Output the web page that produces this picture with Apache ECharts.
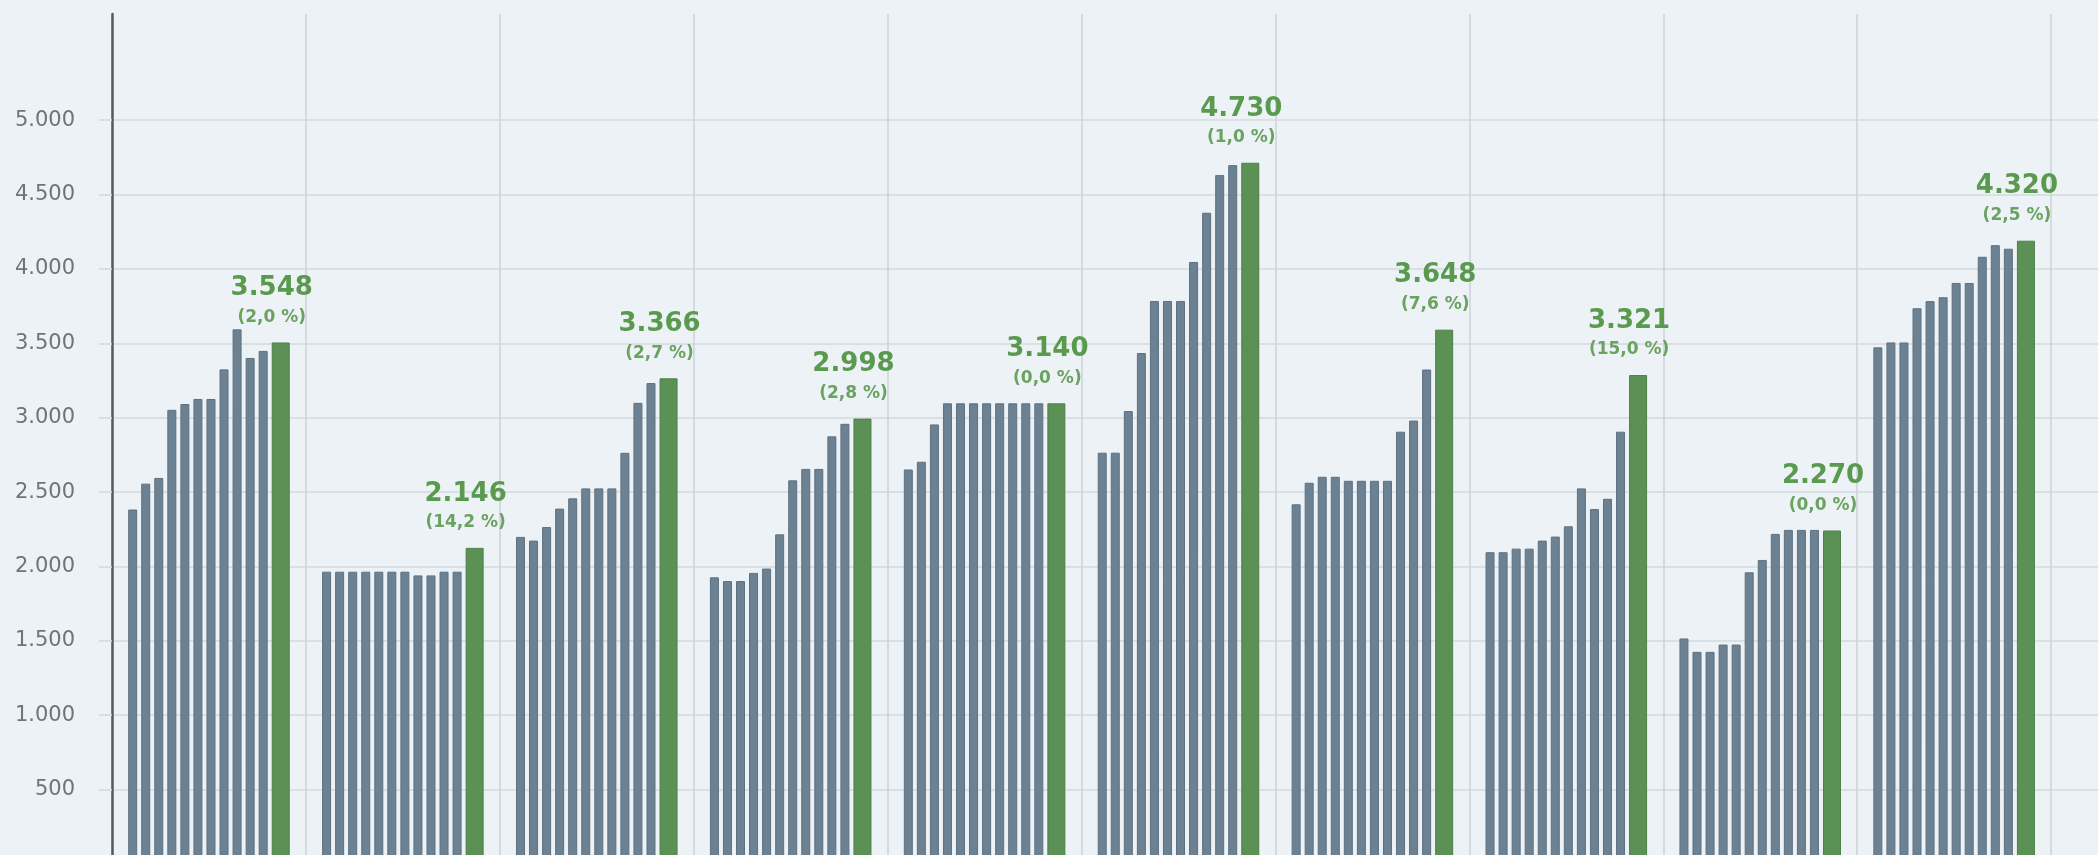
<!DOCTYPE html>
<html>
<head>
<meta charset="utf-8">
<title>Balken</title>
<script src="https://cdn.jsdelivr.net/npm/echarts@6/dist/echarts.min.js"></script>
<style>
    html, body {margin: 0; padding: 0; background: #edf2f7;}
    #chart {width: 2098px; height: 855px;}
</style>
</head>
<body>
<div id="chart"></div>
<script>
// 10 Gruppen, je 11 graue Vorjahres-Balken + 1 gruener aktueller Balken
const groups = ['1', '2', '3', '4', '5', '6', '7', '8', '9', '10'];

const history = [
    [2383, 2557, 2595, 3053, 3092, 3126, 3126, 3325, 3594, 3402, 3449],
    [1965, 1965, 1965, 1965, 1965, 1965, 1965, 1940, 1940, 1965, 1965],
    [2199, 2174, 2265, 2389, 2458, 2525, 2525, 2525, 2764, 3100, 3233],
    [1927, 1902, 1902, 1957, 1986, 2216, 2579, 2656, 2656, 2875, 2959],
    [2652, 2704, 2955, 3097, 3097, 3097, 3097, 3097, 3097, 3097, 3097],
    [2765, 2765, 3045, 3435, 3785, 3785, 3785, 4047, 4378, 4631, 4698],
    [2418, 2563, 2603, 2603, 2576, 2576, 2576, 2576, 2906, 2981, 3324],
    [2096, 2096, 2120, 2120, 2174, 2201, 2270, 2525, 2386, 2455, 2906],
    [1516, 1426, 1426, 1475, 1475, 1961, 2044, 2219, 2246, 2246, 2246],
    [3473, 3506, 3506, 3736, 3784, 3810, 3906, 3906, 4082, 4160, 4136]
];
const latest = [3506, 2125, 3265, 2994, 3097, 4714, 3592, 3287, 2242, 4190];
// Beschriftung ueber dem gruenen Balken
const latestLabel = [3548, 2146, 3366, 2998, 3140, 4730, 3648, 3321, 2270, 4320];
const latestChange = [2.0, 14.2, 2.7, 2.8, 0.0, 1.0, 7.6, 15.0, 0.0, 2.5];
const yTicks = [0, 500, 1000, 1500, 2000, 2500, 3000, 3500, 4000, 4500, 5000];

function fmtThousands(v) {
    return String(v).replace(/\B(?=(\d{3})+(?!\d))/g, '.');
}

var myChart = echarts.init(document.getElementById('chart'));

var greyStyle = {color: '#6c8293', borderColor: '#5d7181', borderWidth: 1};
var series = [];
for (var k = 0; k < 11; k++) {
    series.push({
        type: 'bar',
        data: history.map(function (row) { return row[k]; }),
        barWidth: 9,
        barGap: '45%',
        itemStyle: greyStyle,
        silent: true
    });
}
series.push({
    type: 'bar',
    data: latest,
    barWidth: 18,
    barGap: '45%',
    itemStyle: {color: '#5b9155', borderColor: '#4e8049', borderWidth: 1},
    silent: true,
    label: {
        show: true,
        position: 'top',
        distance: 12,
        offset: [-9, 0],
        align: 'center',
        formatter: function (p) {
            var pct = latestChange[p.dataIndex].toFixed(1).replace('.', ',');
            return '{v|' + fmtThousands(latestLabel[p.dataIndex]) + '}\n{p|(' + pct + ' %)}';
        },
        rich: {
            v: {fontFamily: 'DejaVu Sans', fontWeight: 'bold', fontSize: 26, lineHeight: 32, color: '#5a9a4f', align: 'center'},
            p: {fontFamily: 'DejaVu Sans', fontWeight: 'bold', fontSize: 17, lineHeight: 26, color: '#6aa25f', align: 'center'}
        }
    }
});

var option = {
    backgroundColor: '#edf2f7',
    animation: false,
    grid: {
        left: 112,
        top: 14,
        right: -147,
        bottom: -9,
        containLabel: false,
        outerBoundsMode: 'none'
    },
    xAxis: {
        type: 'category',
        data: groups,
        max: 10,
        axisLine: {show: false},
        axisTick: {show: false},
        axisLabel: {show: false, interval: 0},
        splitLine: {show: true, interval: 0, lineStyle: {color: '#cdd2d8', width: 1.5}}
    },
    yAxis: {
        type: 'value',
        min: 0,
        max: 5714,
        axisLine: {show: true, lineStyle: {color: '#555a5f', width: 2.5}},
        axisTick: {show: true, length: 13, customValues: yTicks, lineStyle: {color: '#d3d8de', width: 1.5}},
        axisLabel: {
            customValues: yTicks,
            margin: 37,
            fontFamily: 'DejaVu Sans',
            fontSize: 21,
            color: '#707377',
            formatter: function (v) {
                return v === 0 ? '' : fmtThousands(v);
            }
        },
        splitLine: {show: true, lineStyle: {color: '#d3d8de', width: 1.5}}
    },
    series: series
};

myChart.setOption(option);
</script>
</body>
</html>
